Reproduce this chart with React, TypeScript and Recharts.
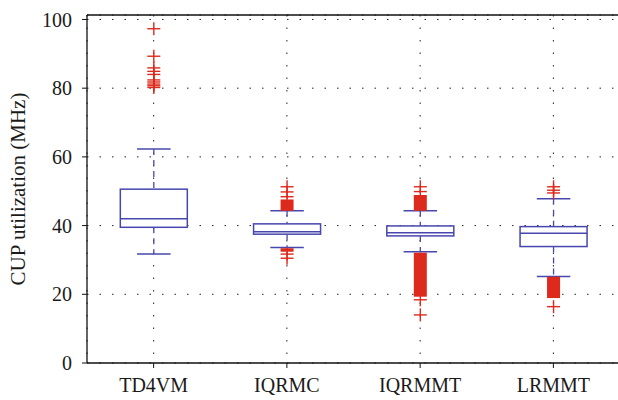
import { ComposedChart, Bar, XAxis, YAxis, CartesianGrid, ReferenceLine } from 'recharts';

const categories = ['TD4VM', 'IQRMC', 'IQRMMT', 'LRMMT'];
const whiskerLow = [31.7, 33.6, 32.4, 25.2];
const q1 = [39.5, 37.5, 37.0, 33.9];
const medians = [42.0, 38.2, 37.9, 37.8];
const q3 = [50.6, 40.5, 39.9, 39.7];
const whiskerHigh = [62.3, 44.3, 44.3, 47.8];

// single outliers drawn as '+'
const outliers = [
  [97.3, 89.3, 85.9, 84.9, 84.0, 82.4, 81.8, 81.2, 80.7, 80.2],
  [51.3, 49.8, 48.4, 31.7, 30.5],
  [51.3, 49.9, 18.4, 14.0],
  [51.3, 50.3, 49.5, 16.4],
];
// runs of outliers so dense the markers merge into a solid block
const denseOutliers: number[][][] = [
  [],
  [[44.3, 47.6], [32.4, 33.4]],
  [[44.3, 48.9], [19.3, 32.1]],
  [[18.9, 25.1]],
];

const yTicks = [0, 20, 40, 60, 80, 100];
const yMax = 101.3;

const BLUE = '#4747ad';
const RED = '#dd2a1c';
const FONT = '"Liberation Serif", "Times New Roman", serif';

const rows = categories.map((name, i) => ({
  name,
  lo: whiskerLow[i],
  q1: q1[i],
  med: medians[i],
  q3: q3[i],
  hi: whiskerHigh[i],
  out: outliers[i],
  dense: denseOutliers[i],
}));

const BoxShape = (props: any) => {
  const { x, y, width, height, payload } = props;
  const top = Math.min(y, y + height);
  const bottom = Math.max(y, y + height);
  const { lo, hi } = payload;
  // linear scale between the bar ends (whisker low / high)
  const py = (v: number) => bottom - ((v - lo) / (hi - lo)) * (bottom - top);
  const cx = x + width / 2;
  const half = width / 2;
  const cap = width / 4;
  const m = 6.5;

  return (
    <g>
      <line x1={cx} x2={cx} y1={py(hi)} y2={py(payload.q3)} stroke={BLUE} strokeWidth={1.3} strokeDasharray="6 5" />
      <line x1={cx} x2={cx} y1={py(payload.q1)} y2={py(lo)} stroke={BLUE} strokeWidth={1.3} strokeDasharray="6 5" />
      <line x1={cx - cap} x2={cx + cap} y1={py(hi)} y2={py(hi)} stroke={BLUE} strokeWidth={1.5} />
      <line x1={cx - cap} x2={cx + cap} y1={py(lo)} y2={py(lo)} stroke={BLUE} strokeWidth={1.5} />
      <rect
        x={cx - half}
        y={py(payload.q3)}
        width={width}
        height={py(payload.q1) - py(payload.q3)}
        fill="#fff"
        stroke={BLUE}
        strokeWidth={1.5}
      />
      <line x1={cx - half} x2={cx + half} y1={py(payload.med)} y2={py(payload.med)} stroke={BLUE} strokeWidth={1.5} />
      {payload.dense.map((r: number[], k: number) => (
        <rect key={'d' + k} x={cx - m} width={2 * m} y={py(r[1])} height={py(r[0]) - py(r[1])} fill={RED} />
      ))}
      {payload.out.map((v: number, k: number) => (
        <g key={'o' + k} stroke={RED} strokeWidth={1.4}>
          <line x1={cx - m} x2={cx + m} y1={py(v)} y2={py(v)} />
          <line x1={cx} x2={cx} y1={py(v) - m} y2={py(v) + m} />
        </g>
      ))}
    </g>
  );
};

export default function App() {
  return (
    <div style={{ position: 'absolute', left: 0, top: 0, width: 618, height: 400, overflow: 'hidden', background: '#fff', fontFamily: FONT }}>
      <ComposedChart width={622} height={400} data={rows} margin={{ top: 15, right: 2, bottom: 0, left: 0 }} barCategoryGap="25%">
        <CartesianGrid stroke="#222" strokeDasharray="1.5 11" />
        <XAxis
          dataKey="name"
          height={37}
          tickSize={5}
          tickMargin={10}
          axisLine={{ stroke: '#111', strokeWidth: 1.3 }}
          tickLine={{ stroke: '#111' }}
          tick={{ fill: '#1a1a1a', fontSize: 20, fontFamily: FONT }}
        />
        <YAxis
          type="number"
          domain={[0, yMax]}
          ticks={yTicks}
          width={87}
          tickSize={5}
          tickMargin={10}
          axisLine={{ stroke: '#111', strokeWidth: 1.3 }}
          tickLine={{ stroke: '#111' }}
          tick={{ fill: '#1a1a1a', fontSize: 20, fontFamily: FONT }}
          label={{ value: 'CUP utilization (MHz)', angle: -90, position: 'center', dx: -26, fill: '#1a1a1a', fontSize: 21, fontFamily: FONT }}
        />
        <ReferenceLine y={yMax} stroke="#111" strokeWidth={1.3} />
        <Bar dataKey={(d: any) => [d.lo, d.hi]} shape={BoxShape} isAnimationActive={false} />
      </ComposedChart>
    </div>
  );
}
